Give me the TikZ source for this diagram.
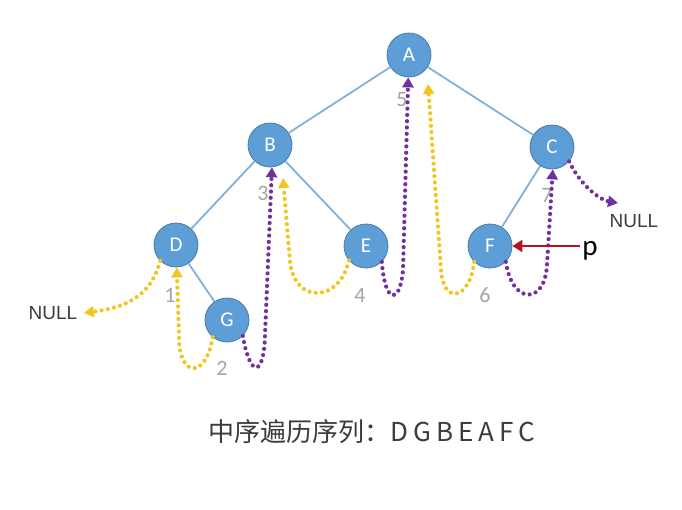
\documentclass[tikz,border=0pt]{standalone}
\usepackage{fontspec}
\setmainfont{Carlito}
\newfontfamily\cjk{Noto Sans CJK SC}
\newfontfamily\nulltxtfont{Liberation Sans}
\usetikzlibrary{arrows.meta}
\definecolor{nodefill}{RGB}{94,158,214}
\definecolor{nodeline}{RGB}{72,122,172}
\definecolor{edgecol}{RGB}{130,176,220}
\definecolor{thyel}{RGB}{242,198,30}
\definecolor{thpur}{RGB}{112,48,160}
\definecolor{pred}{RGB}{180,20,30}
\definecolor{numgray}{RGB}{165,165,165}
\definecolor{txtdark}{RGB}{60,60,60}
\begin{document}
\begin{tikzpicture}[x=1pt,y=-1pt,
 tnode/.style={circle,minimum size=44pt,inner sep=0pt,fill=nodefill,draw=nodeline,line width=0.8pt,text=white,font=\fontsize{21}{24}\selectfont},
 tedge/.style={edgecol,line width=1.8pt},
 thread/.style={line width=4.2pt,line cap=round,dash pattern=on 0pt off 6.3pt},
 ythread/.style={thread,thyel,-{Triangle[length=10pt,width=11pt]}},
 pthread/.style={thread,thpur,-{Triangle[length=10pt,width=11pt]}},
 numlab/.style={text=numgray,font=\fontsize{22}{26}\selectfont},
 nulllab/.style={text=txtdark,font=\nulltxtfont\fontsize{19}{22}\selectfont},
 parrow/.style={pred,line width=2.8pt,-{Triangle[length=10pt,width=12pt]}}]
\useasboundingbox (0,0) rectangle (682,509);
% number labels
\node[numlab] (n1) at (170,295) {1};
\node[numlab] (n2) at (222,368) {2};
\node[numlab] (n3) at (263,193) {3};
\node[numlab] (n4) at (360,295) {4};
\node[numlab] (n5) at (402,100) {5};
\node[numlab] (n6) at (485,295) {6};
\node[numlab] (n7) at (547,195) {7};
% tree nodes
\node[tnode] (A) at (409,55) {A};
\node[tnode] (B) at (270,145) {B};
\node[tnode] (C) at (552,147) {C};
\node[tnode] (D) at (176,245) {D};
\node[tnode] (E) at (366,246) {E};
\node[tnode] (F) at (490,246) {F};
\node[tnode] (G) at (227,320) {G};
% edges
\draw[tedge] (A) -- (B);
\draw[tedge] (A) -- (C);
\draw[tedge] (B) -- (D);
\draw[tedge] (B) -- (E);
\draw[tedge] (C) -- (F);
\draw[tedge] (D) -- (G);
% texts
\node[nulllab] (nullL) at (53,313) {NULL};
\node[nulllab] (nullR) at (634,221) {NULL};
\node[text=black,font=\fontsize{29}{32}\selectfont,inner sep=2pt] (p) at (590,251) {p};
\node[text=txtdark,font=\cjk\fontsize{26}{30}\selectfont] (cap) at (372,432) {中序遍历序列：D\hspace{5pt}G\hspace{5pt}B\hspace{5pt}E\hspace{5pt}A\hspace{5pt}F\hspace{5pt}C};
% free ends
\coordinate (bY) at (283,178);
\coordinate (aY) at (428,84);
\coordinate (cN) at (618,203);
% yellow threads
\draw[ythread] (D.225) .. controls (150,300) and (120,308) .. ([xshift=3pt]nullL.east);
\draw[ythread] (G.230) .. controls (206,380) and (178,378) .. (179,335) -- (D.-88);
\draw[ythread] (E.220) .. controls (340,302) and (295,305) .. (290,262) -- (bY);
\draw[ythread] (F.225) .. controls (470,300) and (443,305) .. (441,270) -- (aY);
% purple threads
\draw[pthread] (G.-45) .. controls (250,378) and (264,378) .. (265,335) -- (B.-85);
\draw[pthread] (E.-45) .. controls (385,305) and (400,305) .. (403,270) -- (A.-92);
\draw[pthread] (F.-45) .. controls (512,305) and (545,305) .. (547,265) -- (C.-88);
\draw[pthread] (C.-40) .. controls (580,185) and (600,200) .. (cN);
% pointer
\draw[parrow] (F.east -| p.west) -- (F.east);
\end{tikzpicture}
\end{document}
